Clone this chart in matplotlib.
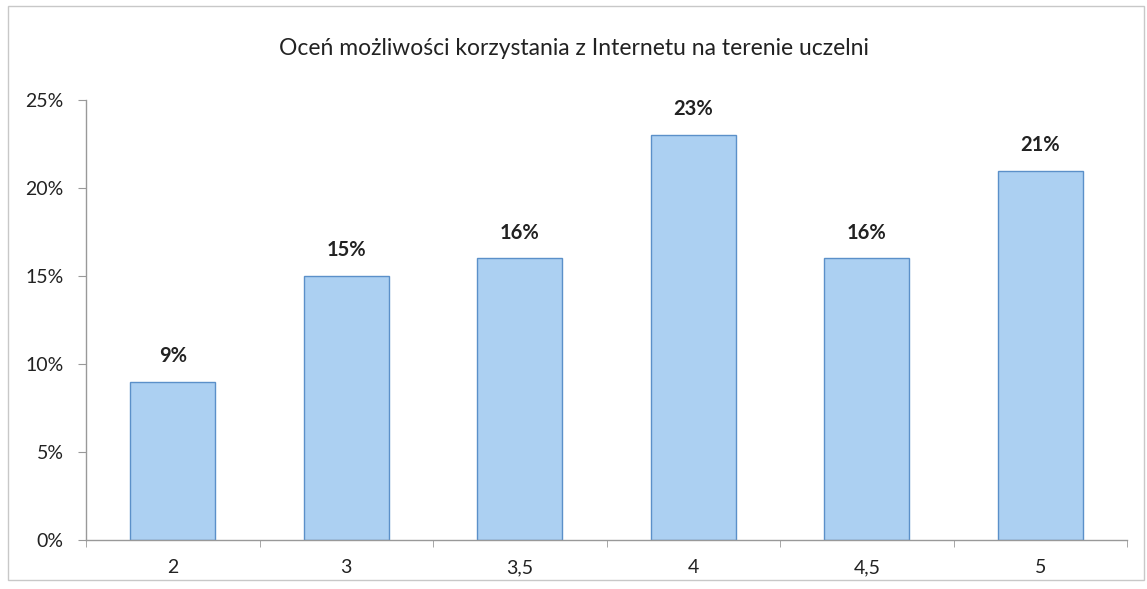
import matplotlib
matplotlib.use("Agg")
import matplotlib.pyplot as plt
from matplotlib.ticker import FixedLocator, MultipleLocator, FuncFormatter
from matplotlib.patches import Rectangle

categories = ["2", "3", "3,5", "4", "4,5", "5"]
values = [9, 15, 16, 23, 16, 21]

plt.rcParams['font.family'] = ['Lato', 'DejaVu Sans']

fig = plt.figure(figsize=(11.47, 5.89), dpi=100)
ax = fig.add_axes([0.075, 0.0832, 0.9076, 0.7468])

x = list(range(len(categories)))
bars = ax.bar(x, values, width=0.49, color="#acd0f2", edgecolor="#5b90c9", linewidth=1.0, zorder=2)
for xi, v in zip(x, values):
    ax.text(xi, v + 0.9, f"{v}%", ha="center", va="bottom", fontsize=14.5, fontweight="bold", color="#222222")

ax.set_xlim(-0.5, len(categories) - 0.5)
ax.set_ylim(0, 25)
ax.yaxis.set_major_locator(MultipleLocator(5))
ax.yaxis.set_major_formatter(FuncFormatter(lambda v, p: f"{int(v)}%"))
ax.set_xticks(x)
ax.set_xticklabels(categories)
ax.xaxis.set_minor_locator(FixedLocator([i + 0.5 for i in range(-1, len(categories))]))
ax.tick_params(axis="x", which="major", length=0, labelsize=14, pad=14, colors="#222222")
ax.tick_params(axis="x", which="minor", length=5, color="#999999", direction="out")
ax.tick_params(axis="y", length=6, color="#999999", labelsize=14, pad=10, labelcolor="#222222")

for s in ["top", "right"]:
    ax.spines[s].set_visible(False)
for s in ["left", "bottom"]:
    ax.spines[s].set_color("#999999")
    ax.spines[s].set_linewidth(1.0)

fig.text(0.5, 0.918, "Oceń możliwości korzystania z Internetu na terenie uczelni",
         ha="center", va="center", fontsize=16.5, color="#222222")

fig.patches.append(Rectangle((0.007, 0.015), 0.99, 0.975, transform=fig.transFigure,
                             fill=False, edgecolor="#c8c8c8", linewidth=1.0))

fig.savefig("out.png", dpi=100)
